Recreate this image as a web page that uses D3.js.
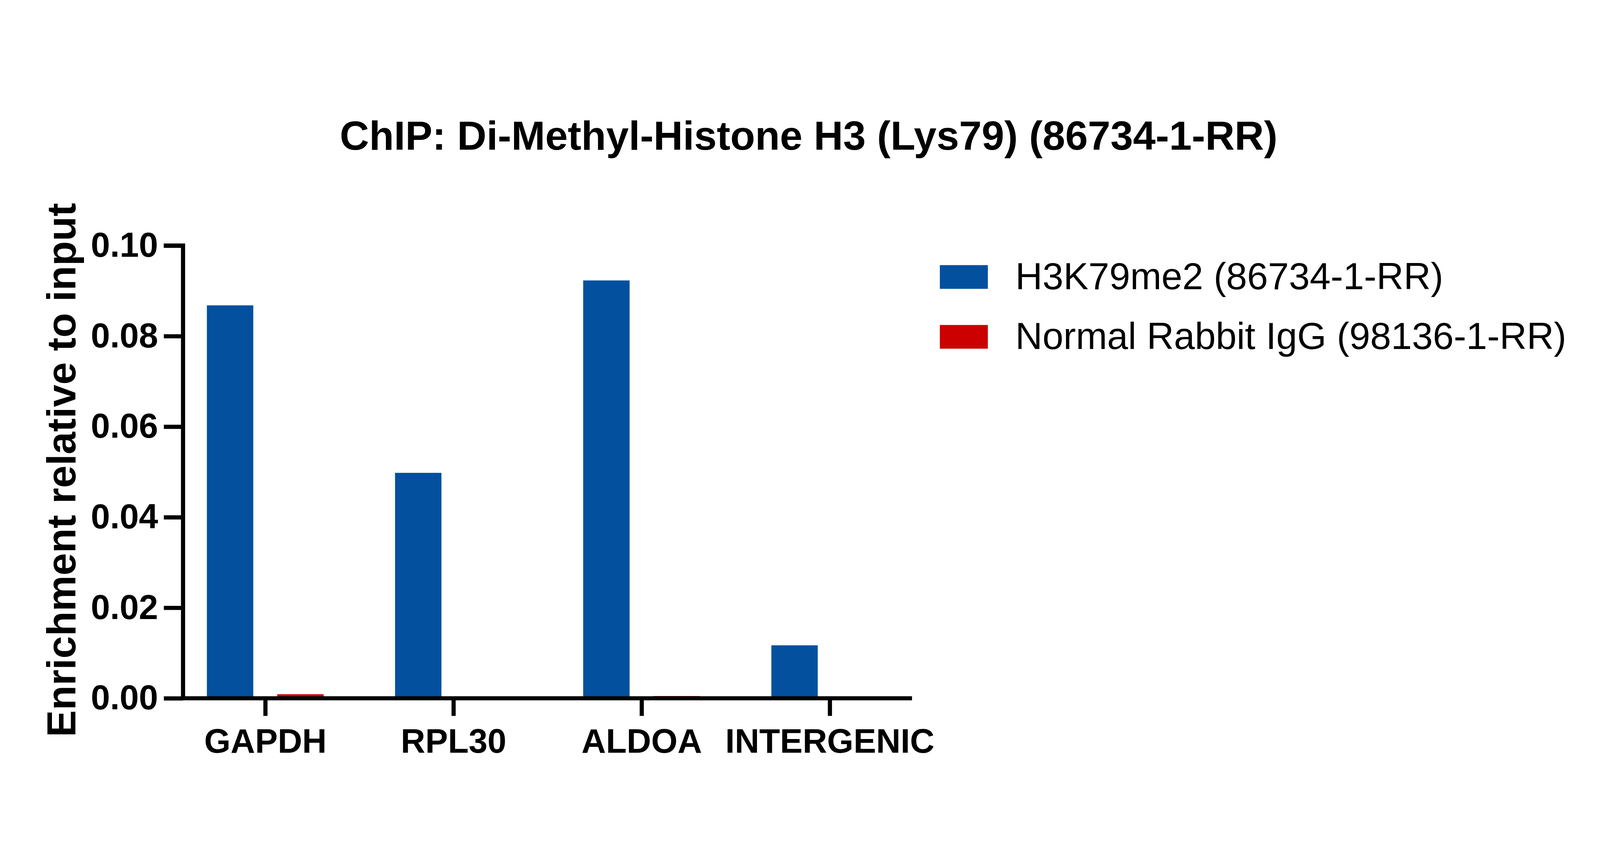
<!DOCTYPE html>
<html><head><meta charset="utf-8">
<script src="https://cdn.jsdelivr.net/npm/d3@7"></script>
<style>html,body{margin:0;padding:0;width:100%;height:100%;overflow:hidden;background:#fff}svg{display:block}</style>
</head><body>
<script>
const categories = ["GAPDH","RPL30","ALDOA","INTERGENIC"];
const seriesNames = ["H3K79me2 (86734-1-RR)","Normal Rabbit IgG (98136-1-RR)"];
const h3k79me2 = [0.0868, 0.0498, 0.0923, 0.0117];
const normalIgG = [0.0009, 0.0001, 0.0005, 0.0003];
const yTicks = [0.00,0.02,0.04,0.06,0.08,0.10];
const colors = ["#02509E","#CC0000"];
const title = "ChIP: Di-Methyl-Histone H3 (Lys79) (86734-1-RR)";
const yTitle = "Enrichment relative to input";

const W=5000,H=2221;
const svg=d3.select("body").append("svg").attr("viewBox",`0 0 ${W} ${H}`)
  .attr("width","100%").attr("height","100%").attr("preserveAspectRatio","xMidYMid meet")
  .style("font-family","Liberation Sans, Arial, sans-serif");
const x0=572, x1=2850, yTop=522, yBot=1936;
const y=d3.scaleLinear().domain([0,0.10]).range([yBot,yTop]);
const x=d3.scalePoint().domain(categories).range([829,2593]);
const bw=145, gap=75;

function fit(t,w){const l=t.node().getComputedTextLength();t.attr("font-size",parseFloat(t.attr("font-size"))*w/l);}

const series=[h3k79me2,normalIgG];
series.forEach((vals,si)=>{
  svg.append("g").selectAll("rect").data(vals).join("rect")
    .attr("x",(d,i)=>x(categories[i]) + (si===0 ? -(bw+gap/2) : gap/2))
    .attr("width",bw)
    .attr("y",d=>y(d)).attr("height",d=>yBot-y(d))
    .attr("fill",colors[si]);
});

const ya=svg.append("g").attr("transform",`translate(${x0},0)`)
  .call(d3.axisLeft(y).tickValues(yTicks).tickFormat(d3.format(".2f")).tickSize(60).tickPadding(18));
ya.select(".domain").attr("stroke","#000").attr("stroke-width",13).attr("d",`M-60,${yTop}H0V${yBot}`);
ya.selectAll(".tick line").attr("stroke-width",13);
ya.selectAll("text").attr("font-size",108).attr("font-weight","bold").attr("fill","#000");

const xa=svg.append("g").attr("transform",`translate(0,${yBot})`)
  .call(d3.axisBottom(x).tickSize(55).tickPadding(40));
xa.select(".domain").attr("stroke-width",13).attr("d",`M${x0-6},0H${x1}`);
xa.selectAll(".tick line").attr("stroke-width",13);
xa.selectAll("text").attr("font-size",106).attr("font-weight","bold").attr("fill","#000");

const tt=svg.append("text").attr("x",2527).attr("y",222).attr("text-anchor","middle")
  .attr("font-weight","bold").attr("font-size",100).text(title);
fit(tt,2930);

const yt=svg.append("text").attr("transform","translate(235,1223) rotate(-90)").attr("text-anchor","middle")
  .attr("font-weight","bold").attr("font-size",120).text(yTitle);
fit(yt,1668);

const lg=svg.append("g");
const ly=[620,807];
let fs=106;
seriesNames.forEach((n,i)=>{
  lg.append("rect").attr("x",2937).attr("y",ly[i]-37).attr("width",150).attr("height",74).attr("fill",colors[i]);
  const t=lg.append("text").attr("x",3173).attr("y",ly[i]+38).attr("font-size",106).text(n);
  if(i===1){ fit(t,1722); fs=t.attr("font-size"); }
});
lg.selectAll("text").attr("font-size",fs);
</script>
</body></html>
